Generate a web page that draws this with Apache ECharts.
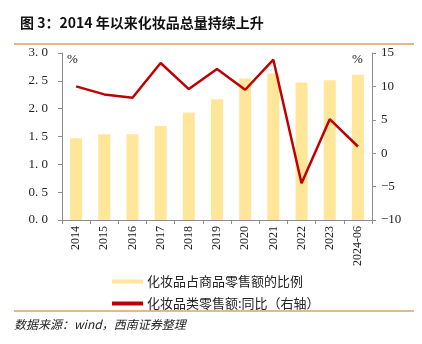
<!DOCTYPE html>
<html>
<head>
<meta charset="utf-8">
<script src="https://cdn.jsdelivr.net/npm/echarts@6/dist/echarts.min.js"></script>
<style>
  html, body { margin: 0; padding: 0; background: #fff; }
  #chart { width: 422px; height: 344px; }
</style>
</head>
<body>
<div id="chart"></div>
<script>
// Years shown on the category axis
var categories = ['2014', '2015', '2016', '2017', '2018', '2019', '2020', '2021', '2022', '2023', '2024-06'];
// Cosmetics share of total retail sales (%), left axis
var shareValues = [1.47, 1.54, 1.54, 1.69, 1.93, 2.17, 2.54, 2.63, 2.47, 2.51, 2.61];
// Cosmetics retail sales, year-on-year growth (%), right axis
var yoyValues = [10.0, 8.8, 8.3, 13.5, 9.6, 12.6, 9.5, 14.0, -4.5, 5.1, 1.0];

var serif = '"Liberation Serif", "DejaVu Serif", serif';
var cjk = '"Noto Sans CJK SC", sans-serif';
var axisGrey = '#8c8c8c';

var chart = echarts.init(document.getElementById('chart'));
chart.setOption({
  animation: false,
  grid: { left: 62, right: 50, top: 53, bottom: 124 },
  title: {
    text: '图 3：2014 年以来化妆品总量持续上升',
    left: 15, top: 11,
    textStyle: { fontFamily: cjk, fontSize: 14, fontWeight: 'bold', color: '#111' }
  },
  legend: {
    orient: 'vertical',
    left: 107, top: 270,
    itemWidth: 31, itemHeight: 4, itemGap: 9,
    icon: 'rect',
    textStyle: { fontFamily: cjk, fontSize: 13, color: '#222', padding: [0, 0, 0, -1] },
    data: ['化妆品占商品零售额的比例', '化妆品类零售额:同比（右轴）']
  },
  xAxis: {
    type: 'category',
    data: categories,
    boundaryGap: true,
    axisLine: { lineStyle: { color: axisGrey, width: 1 } },
    axisTick: { show: true, length: 4, lineStyle: { color: axisGrey } },
    axisLabel: { rotate: 90, fontFamily: serif, fontSize: 12, color: '#222', margin: 6, interval: 0 }
  },
  yAxis: [
    {
      type: 'value', min: 0, max: 3, interval: 0.5,
      splitLine: { show: false },
      axisLine: { show: true, lineStyle: { color: axisGrey } },
      axisTick: { show: true, length: 4, lineStyle: { color: axisGrey } },
      axisLabel: {
        fontFamily: serif, fontSize: 13, color: '#222', margin: 14,
        formatter: function (v) { return v.toFixed(1).replace('.', '. '); }
      }
    },
    {
      type: 'value', min: -10, max: 15, interval: 5,
      splitLine: { show: false },
      axisLine: { show: true, lineStyle: { color: axisGrey } },
      axisTick: { show: true, length: 4, lineStyle: { color: axisGrey } },
      axisLabel: {
        fontFamily: serif, fontSize: 13, color: '#222', margin: 9,
        formatter: function (v) { return v < 0 ? '\u2212' + Math.abs(v) : String(v); }
      }
    }
  ],
  series: [
    {
      name: '化妆品占商品零售额的比例',
      type: 'bar',
      data: shareValues,
      yAxisIndex: 0,
      barWidth: 12,
      itemStyle: { color: '#ffe699' }
    },
    {
      name: '化妆品类零售额:同比（右轴）',
      type: 'line',
      data: yoyValues,
      yAxisIndex: 1,
      symbol: 'none',
      lineStyle: { color: '#c00000', width: 2.5 },
      itemStyle: { color: '#c00000' }
    }
  ],
  graphic: [
    { type: 'line', shape: { x1: 14, y1: 44, x2: 414, y2: 44 }, style: { stroke: '#d9a066', lineWidth: 1.5 } },
    { type: 'line', shape: { x1: 14, y1: 311, x2: 414, y2: 311 }, style: { stroke: '#d9a066', lineWidth: 1.5 } },
    { type: 'text', left: 67, top: 53, style: { text: '%', font: '13px ' + serif, fill: '#222' } },
    { type: 'text', left: 352, top: 53, style: { text: '%', font: '13px ' + serif, fill: '#222' } },
    { type: 'text', left: 14, top: 318, style: { text: '数据来源：wind，西南证券整理', font: 'italic 12px ' + cjk, fill: '#222' } }
  ]
});
</script>
</body>
</html>
